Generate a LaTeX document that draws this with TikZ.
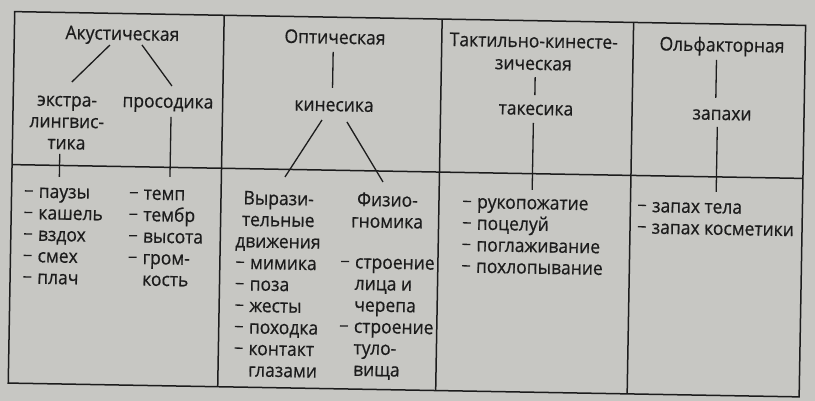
\documentclass[tikz,border=0pt]{standalone}
\usepackage{fontspec}
\setmainfont{Open Sans}[FakeStretch=0.93, FakeBold=0.6]
\definecolor{bg}{RGB}{199,199,195}
\definecolor{ink}{RGB}{28,28,28}
\newcommand{\fs}{\fontsize{18.8}{21.5}\selectfont}
\newcommand{\dd}{\llap{\textcolor{ink}{\rule[6pt]{8pt}{1.3pt}}\hspace{6pt}}}
\newcommand{\ctr}[2]{\hspace*{#1}\makebox[0pt]{#2}}
\tikzset{
  tbl/.style={draw=ink, line width=1.5pt},
  con/.style={draw=ink, line width=1.3pt},
  txt/.style={inner sep=0pt, text=ink, font=\fs},
  blk/.style={txt, anchor=north, align=center},
  lst/.style={txt, anchor=north west, align=left}
}
\begin{document}
\begin{tikzpicture}[x=1pt,y=-1pt]
\fill[bg] (0,0) rectangle (815,401);
\useasboundingbox (0,0) rectangle (815,401);
\begin{scope}[rotate around={-1:(407,200)}, transform shape]
% table
\draw[tbl] (11.5,18.5) rectangle (802.5,390);
\draw[tbl] (11.5,171.5) -- (802.5,171.5);
\draw[tbl] (221,18.5) -- (221,390);
\draw[tbl] (439,18.5) -- (439,390);
\draw[tbl] (630.5,18.5) -- (630.5,390);
% column 1
\node[txt, anchor=base] (akust) at (119.6,45) {Акустическая};
\node[blk] (extra) at (65.5,96.95) {\strut экстра-\\лингвис-\\тика};
\node[txt, anchor=base] (pros) at (166.3,112) {просодика};
\coordinate (a1) at (107.3,50.2); \coordinate (a2) at (69.9,87.8);
\coordinate (a3) at (139.3,49.6); \coordinate (a4) at (170,90.1);
\draw[con] (a1) -- (a2);
\draw[con] (a3) -- (a4);
\coordinate (e1) at (59,160); \coordinate (e2) at (59,183);
\coordinate (p1) at (169.6,121); \coordinate (p2) at (169.6,181);
\draw[con] (e1) -- (e2);
\draw[con] (p1) -- (p2);
\node[lst] (list1) at (38.5,188.95) {\strut\dd паузы\\\dd кашель\\\dd вздох\\\dd смех\\\dd плач};
\node[lst] (list2) at (143.5,188.95) {\strut\dd темп\\\dd тембр\\\dd высота\\\dd гром-\\кость};
% column 2
\node[txt, anchor=base] (opt) at (332.2,45) {Оптическая};
\node[txt, anchor=base] (kin) at (332.4,112.5) {кинесика};
\coordinate (o1) at (330.6,53.3); \coordinate (o2) at (330.6,89.3);
\draw[con] (o1) -- (o2);
\coordinate (k1) at (320.6,121.5); \coordinate (k2) at (284.6,179.1);
\coordinate (k3) at (345.6,123); \coordinate (k4) at (382.7,182.4);
\draw[con] (k1) -- (k2);
\draw[con] (k3) -- (k4);
\node[lst] (vyr) at (251,191.95) {\strut\ctr{27.5pt}{Вырази-}\\\ctr{27.5pt}{тельные}\\\ctr{27.5pt}{движения}\\\dd мимика\\\dd поза\\\dd жесты\\\dd походка\\\dd контакт\\глазами};
\node[blk] (fiz) at (387.5,191.45) {\strut Физио-\\гномика};
\node[lst] (list4) at (356,253.95) {\strut\dd строение\\лица и\\черепа\\\dd строение\\туло-\\вища};
% column 3
\node[blk] (takt) at (531,29.95) {\strut Тактильно-кинесте-\\[1pt]зическая};
\node[txt, anchor=base] (tak) at (534.4,112.7) {такесика};
\coordinate (t1) at (533,74.8); \coordinate (t2) at (533,92.8);
\draw[con] (t1) -- (t2);
\coordinate (t3) at (532,120.8); \coordinate (t4) at (532,187.8);
\draw[con] (t3) -- (t4);
\node[lst] (list5) at (477,191.75) {\strut\dd рукопожатие\\\dd поцелуй\\\dd поглаживание\\\dd похлопывание};
% column 4
\node[txt, anchor=base] (olf) at (719.3,46) {Ольфакторная};
\node[txt, anchor=base] (zap) at (720.5,114.5) {запахи};
\coordinate (z1) at (714,54.6); \coordinate (z2) at (714,92.6);
\draw[con] (z1) -- (z2);
\coordinate (z3) at (716,121.5); \coordinate (z4) at (716,186.5);
\draw[con] (z3) -- (z4);
\node[lst] (list6) at (652,192.65) {\strut\dd запах тела\\\dd запах косметики};
\end{scope}
\end{tikzpicture}
\end{document}
